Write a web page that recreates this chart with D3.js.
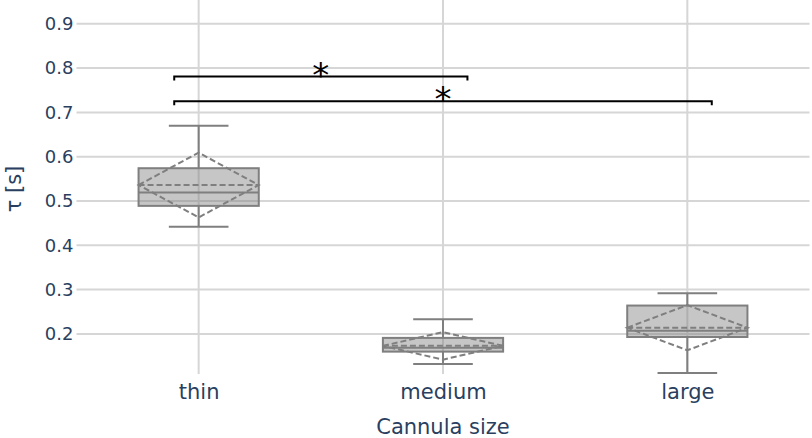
<!DOCTYPE html>
<html>
<head>
<meta charset="utf-8">
<script src="https://cdn.jsdelivr.net/npm/d3@7"></script>
<style>
  html, body { margin: 0; padding: 0; background: #fff; }
  svg { display: block; font-family: "DejaVu Sans", Verdana, sans-serif; }
</style>
</head>
<body>
<svg id="chart" width="812" height="438"></svg>
<script>
// ---- data ----
const categories = ["thin", "medium", "large"];
const lowerFence = [0.442, 0.132, 0.112];
const q1 = [0.489, 0.160, 0.193];
const median = [0.519, 0.169, 0.207];
const q3 = [0.574, 0.191, 0.264];
const upperFence = [0.670, 0.233, 0.292];
const means = [0.536, 0.173, 0.214];
const sds = [0.073, 0.031, 0.051];
const yTicks = [0.2, 0.3, 0.4, 0.5, 0.6, 0.7, 0.8, 0.9];
const sigFrom = ["thin", "thin"];
const sigTo = ["medium", "large"];
const sigLevel = [0.781, 0.725];
const sigLabel = ["*", "*"];

(function () {
// ---- layout ----
const svg = d3.select("#chart");
const pL = 76.5, pR = 809.5, pT = 0, pB = 374;
const textColor = "#2a3f5f";
const boxStroke = "#7f7f7f";

const x = d3.scaleLinear().domain([-0.5, 2.5]).range([pL, pR]);
const y = d3.scaleLinear().domain([0.1095, 0.9537]).range([pB, pT]);
const catIndex = c => categories.indexOf(c);
const boxHalf = 0.246, capHalf = 0.122;

// grid
const grid = svg.append("g");
grid.selectAll("line.h").data(yTicks).join("line")
  .attr("x1", pL).attr("x2", pR)
  .attr("y1", d => y(d)).attr("y2", d => y(d))
  .attr("stroke", "#d6d6d6").attr("stroke-width", 2);
grid.selectAll("line.v").data(categories).join("line")
  .attr("x1", (d, i) => x(i)).attr("x2", (d, i) => x(i))
  .attr("y1", pT).attr("y2", pB)
  .attr("stroke", "#d6d6d6").attr("stroke-width", 2);

// y axis
const yAxis = d3.axisLeft(y).tickValues(yTicks).tickFormat(d3.format(".1f")).tickSize(0).tickPadding(3);
const ya = svg.append("g").attr("transform", `translate(${pL},0)`).call(yAxis);
ya.select(".domain").remove();
ya.selectAll("text").attr("fill", textColor).style("font-size", "18px")
  .style("font-family", "DejaVu Sans, sans-serif");

// x axis
const xAxis = d3.axisBottom(x).tickValues(d3.range(categories.length))
  .tickFormat(i => categories[i]).tickSize(0).tickPadding(10);
const xa = svg.append("g").attr("transform", `translate(0,${pB})`).call(xAxis);
xa.select(".domain").remove();
xa.selectAll("text").attr("fill", textColor).style("font-size", "21px")
  .style("font-family", "DejaVu Sans, sans-serif");

// axis titles
svg.append("text").attr("x", (pL + pR) / 2).attr("y", 434)
  .attr("text-anchor", "middle").attr("fill", textColor)
  .style("font-size", "21px").text("Cannula size");
svg.append("text").attr("transform", `translate(21,${y(0.5) - 12}) rotate(-90)`)
  .attr("text-anchor", "middle").attr("fill", textColor)
  .style("font-size", "21px").text("τ [s]");

// boxes
const boxes = svg.append("g");
categories.forEach((c, i) => {
  const g = boxes.append("g");
  g.append("line").attr("x1", x(i)).attr("x2", x(i))
    .attr("y1", y(upperFence[i])).attr("y2", y(q3[i]))
    .attr("stroke", boxStroke).attr("stroke-width", 2);
  g.append("line").attr("x1", x(i)).attr("x2", x(i))
    .attr("y1", y(q1[i])).attr("y2", y(lowerFence[i]))
    .attr("stroke", boxStroke).attr("stroke-width", 2);
  [upperFence[i], lowerFence[i]].forEach(v => {
    g.append("line").attr("x1", x(i - capHalf)).attr("x2", x(i + capHalf))
      .attr("y1", y(v)).attr("y2", y(v))
      .attr("stroke", boxStroke).attr("stroke-width", 2);
  });
  g.append("rect").attr("x", x(i - boxHalf)).attr("width", x(i + boxHalf) - x(i - boxHalf))
    .attr("y", y(q3[i])).attr("height", y(q1[i]) - y(q3[i]))
    .attr("fill", "rgba(128,128,128,0.45)").attr("stroke", boxStroke).attr("stroke-width", 2);
  g.append("line").attr("x1", x(i - boxHalf)).attr("x2", x(i + boxHalf))
    .attr("y1", y(median[i])).attr("y2", y(median[i]))
    .attr("stroke", boxStroke).attr("stroke-width", 2);
  const pts = [
    [x(i - boxHalf), y(means[i])],
    [x(i), y(means[i] + sds[i])],
    [x(i + boxHalf), y(means[i])],
    [x(i), y(means[i] - sds[i])]
  ];
  g.append("path").attr("d", d3.line()(pts) + "Z")
    .attr("fill", "none").attr("stroke", boxStroke).attr("stroke-width", 2)
    .attr("stroke-dasharray", "6,3");
  g.append("line").attr("x1", x(i - boxHalf)).attr("x2", x(i + boxHalf))
    .attr("y1", y(means[i])).attr("y2", y(means[i]))
    .attr("stroke", boxStroke).attr("stroke-width", 2).attr("stroke-dasharray", "6,3");
});

// significance brackets
const sig = svg.append("g");
sigFrom.forEach((f, k) => {
  const a = catIndex(f) - 0.1, b = catIndex(sigTo[k]) + 0.1;
  const yy = y(sigLevel[k]);
  sig.append("path")
    .attr("d", `M${x(a)},${yy + 4}V${yy}H${x(b)}V${yy + 4}`)
    .attr("fill", "none").attr("stroke", "#000").attr("stroke-width", 2);
  sig.append("text").attr("x", x((a + b) / 2)).attr("y", yy + 10)
    .attr("text-anchor", "middle").attr("fill", "#000")
    .style("font-size", "34px").text(sigLabel[k]);
});
})();
</script>
</body>
</html>
